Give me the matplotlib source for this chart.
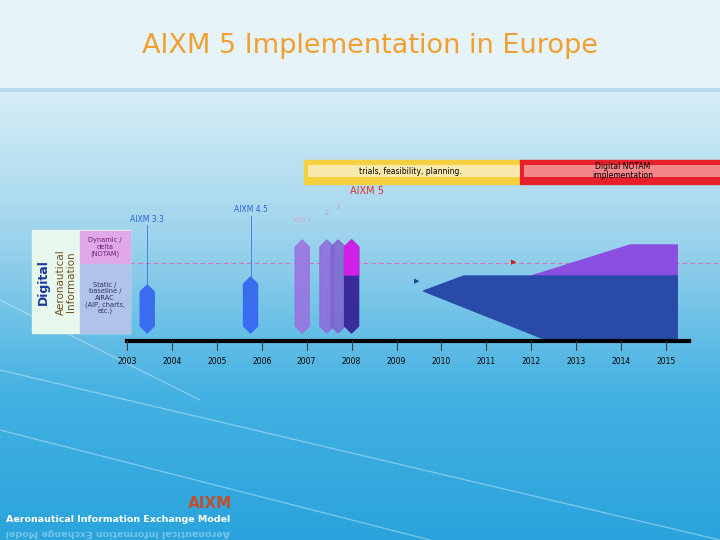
import numpy as np
import matplotlib.pyplot as plt
from matplotlib.patches import Polygon, Rectangle
from matplotlib.colors import LinearSegmentedColormap

# --- Data ---
years = list(range(2003, 2016))
release_names = ['AIXM 3.3', 'AIXM 4.5', 'AIXM 5']
release_years = [2003.45, 2005.75, 2008.0]
draft_years = [2006.9, 2007.45, 2007.7, 2008.0]
draft_colors = ['#9b6fe0', '#8e6ad8', '#7f63d0', '#3a2a9a']
phase_names = ['trials, feasibility, planning.', 'Digital NOTAM\nimplementation']
phase_years = [2006.95, 2011.75, 2016.3]

PX = 44.92  # pixels per year


def yx(yr):
    return 127 + (yr - 2003) * PX


fig = plt.figure(figsize=(7.2, 5.4), dpi=100)
ax = fig.add_axes([0, 0, 1, 1])
ax.set_xlim(0, 720)
ax.set_ylim(540, 0)
ax.axis('off')

# --- Background gradient ---
grad = np.linspace(0, 1, 256).reshape(-1, 1)
bg = LinearSegmentedColormap.from_list('bg', ['#d8eef6', '#9cd3ec', '#45b2e2', '#2aa3dc'])
ax.imshow(grad, cmap=bg, extent=[0, 720, 540, 90], aspect='auto', zorder=0)
ax.add_patch(Rectangle((0, 0), 720, 90, color='#e6f3f8', zorder=0.5))
ax.plot([0, 720], [90, 90], color='#b8dcec', lw=3, zorder=0.6)
for (x0, y0, x1, y1) in [(0, 370, 720, 540), (0, 430, 430, 540), (0, 300, 200, 400)]:
    ax.plot([x0, x1], [y0, y1], color='white', lw=1, alpha=0.35, zorder=0.7)

ax.text(370, 46, 'AIXM 5 Implementation in Europe', color='#f0a030',
        fontsize=19.5, ha='center', va='center')

# --- Phase bars (yellow then red, with a pale highlight band) ---
bar_specs = [(phase_years[0], phase_years[1], '#f5d040', '#fbf0c8'),
             (phase_years[1], phase_years[2], '#e8202a', '#f7a0a0')]
for x0, x1, c, hl in bar_specs:
    ax.add_patch(Rectangle((yx(x0), 160), yx(x1) - yx(x0), 24, color=c, zorder=2))
    ax.add_patch(Rectangle((yx(x0) + 4, 165), yx(x1) - yx(x0) - 4, 12, color=hl,
                           alpha=0.8, zorder=2.1, lw=0))
ax.text(410, 171, phase_names[0], fontsize=5.5, ha='center', va='center', zorder=3)
ax.text(623, 171, phase_names[1], fontsize=5.5, ha='center', va='center', zorder=3,
        linespacing=1.0)

# --- Left label box ---
ax.add_patch(Rectangle((32, 230), 98, 103, color='#e8f8ec', zorder=2))
ax.add_patch(Rectangle((80, 231), 50, 33, color='#e0a8e8', zorder=2.1))
ax.add_patch(Rectangle((80, 264), 50, 69, color='#b0c4ea', zorder=2.1))
ax.text(43, 282, 'Digital', rotation=90, color='#1a3aa0', fontsize=9, fontweight='bold',
        ha='center', va='center', zorder=3)
ax.text(66, 282, 'Aeronautical\nInformation', rotation=90, color='#705020', fontsize=7.5,
        ha='center', va='center', zorder=3, linespacing=1.0)
ax.text(105, 247, 'Dynamic /\ndelta\n(NOTAM)', fontsize=4.8, color='#702070',
        ha='center', va='center', zorder=3, linespacing=1.1)
ax.text(105, 298, 'Static /\nbaseline /\nAIRAC\n(AIP, charts,\netc.)', fontsize=4.8,
        color='#303060', ha='center', va='center', zorder=3, linespacing=1.1)

# dashed divider
ax.plot([130, 720], [263, 263], color='#e070b0', lw=0.8, ls=(0, (4, 3)), zorder=2)


def hexagon(x, top, bot, w, color, z=3, alpha=1.0):
    pts = [(x - w / 2, top + 7), (x, top), (x + w / 2, top + 7),
           (x + w / 2, bot - 7), (x, bot), (x - w / 2, bot - 7)]
    ax.add_patch(Polygon(pts, closed=True, color=color, zorder=z, alpha=alpha))


# --- Release markers ---
rel_tops = [285, 277]
label_y = [219, 210]
for name, yr, top, ly in zip(release_names[:2], release_years[:2], rel_tops, label_y):
    x = yx(yr)
    ax.plot([x, x], [ly + 6, top], color='#4a80e0', lw=0.7, zorder=2.5)
    hexagon(x, top, 333, 14, '#3a6cf0')
    ax.text(x, ly, name, fontsize=5.5, color='#2a60d8', ha='center', va='center', zorder=3)

for i, (yr, c) in enumerate(zip(draft_years, draft_colors)):
    x = yx(yr)
    hexagon(x, 240, 333, 14, c, z=3 + i * 0.1, alpha=0.85 if i < 3 else 1.0)
    if i == 3:
        ax.add_patch(Polygon([(x - 7, 247), (x, 240), (x + 7, 247), (x + 7, 275), (x - 7, 275)],
                             color='#d020e8', zorder=3.5))
ax.text(yx(2006.9), 222, 'WD 1', fontsize=5, color='#e0a0d0', ha='center', zorder=3)
ax.text(yx(2007.45), 215, '2', fontsize=5, color='#c0a0d0', ha='center', zorder=3)
ax.text(yx(2007.7), 209, '3', fontsize=5, color='#c0a0d0', ha='center', zorder=3)
ax.text(yx(2008.35), 191, release_names[2], fontsize=7, color='#e03030', ha='center',
        va='center', zorder=3)

# --- Deployment wedge ---
ax.add_patch(Polygon([(yx(2012.0), 276), (yx(2014.2), 245), (yx(2015.25), 245),
                      (yx(2015.25), 276)], color='#8a4ee0', zorder=2.5))
ax.add_patch(Polygon([(yx(2009.6), 291), (yx(2010.5), 276), (yx(2015.25), 276),
                      (yx(2015.25), 341), (yx(2012.4), 341)], color='#2a4aa8', zorder=2.6))
ax.text(yx(2009.45), 281, '▶', fontsize=5, color='#204090', ha='center', va='center', zorder=3)
ax.text(yx(2011.6), 262, '▶', fontsize=5, color='#d02020', ha='center', va='center', zorder=3)

# --- Time axis ---
ax.plot([yx(2003), yx(2015.5)], [341, 341], color='black', lw=3, zorder=4)
for yr in years:
    ax.plot([yx(yr), yx(yr)], [341, 350], color='#404040', lw=0.8, zorder=4)
    ax.text(yx(yr), 362, str(yr), fontsize=5.5, ha='center', va='center', zorder=4)

# --- Footer logo ---
ax.text(210, 504, 'AIXM', fontsize=11, fontweight='bold', color='#c05030', ha='center', va='center')
ax.text(118, 520, 'Aeronautical Information Exchange Model', fontsize=6.8, fontweight='bold',
        color='white', ha='center', va='center')
ax.text(118, 532, 'Aeronautical Information Exchange Model', fontsize=6.8, fontweight='bold',
        color='white', alpha=0.35, ha='center', va='center', rotation=180)

fig.savefig('out.png', dpi=100)
